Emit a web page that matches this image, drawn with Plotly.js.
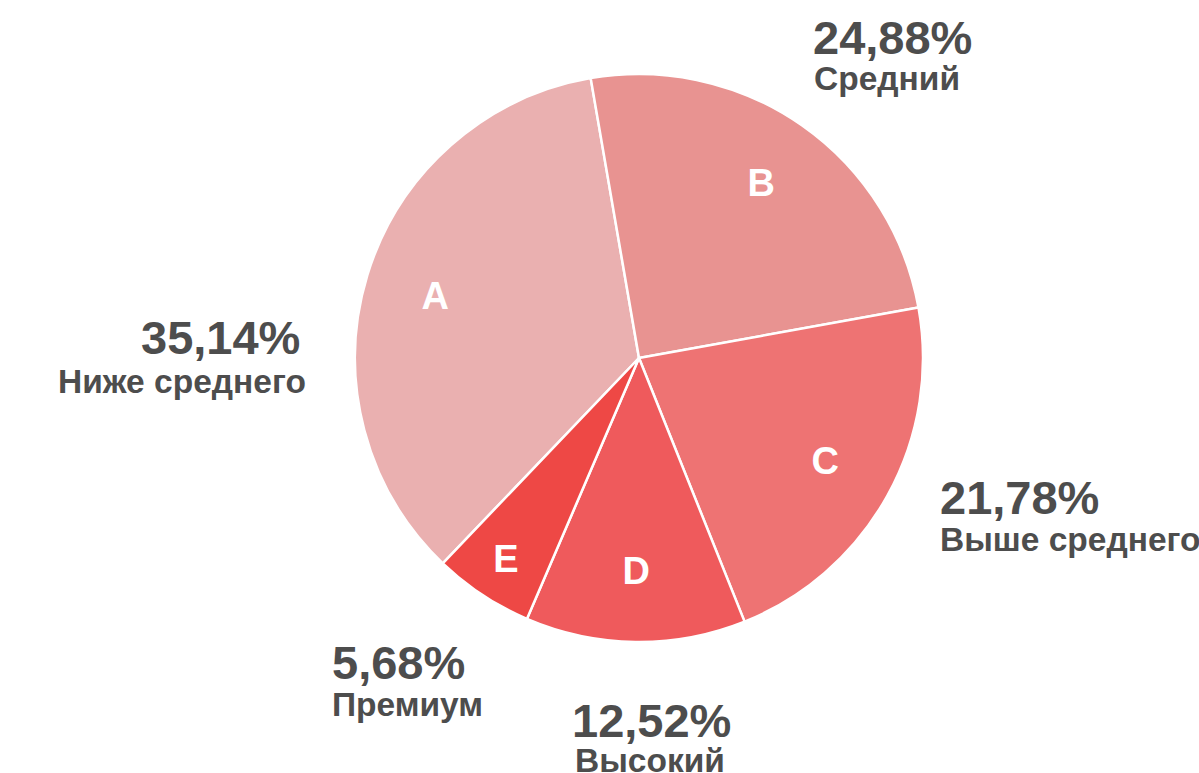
<!DOCTYPE html>
<html><head><meta charset="utf-8">
<script src="https://cdn.plot.ly/plotly-3.0.1.min.js"></script>
<style>html,body{margin:0;padding:0;background:#fff;overflow:hidden}#chart{width:1199px;height:773px}</style>
</head><body><div id="chart"></div>
<script>
// ---- data ----
const letters = ['A', 'B', 'C', 'D', 'E'];
const categories = ['Ниже среднего', 'Средний', 'Выше среднего', 'Высокий', 'Премиум'];
const values = [35.14, 24.88, 21.78, 12.52, 5.68];

// ---- style / layout ----
const colors = ['#EAB0B0', '#E89391', '#EE7373', '#EF5A5C', '#EE4845'];
const FONT = 'Liberation Sans, Arial, Helvetica, sans-serif';
const TEXT_COLOR = '#4D4D4D';
const W = 1199, H = 773;
const cx = 639, cy = 358, R = 284;
const domain = {x: [(cx - R) / W, (cx + R) / W], y: [(H - cy - R) / H, (H - cy + R) / H]};
const rotation = -136.3;

// outside label placement (pixels)
const labelLayout = [
  {xanchor: 'right',  pct: [302, 337], name: [308, 382]},
  {xanchor: 'left',   pct: [811, 38],  name: [812, 78]},
  {xanchor: 'left',   pct: [938, 497], name: [938, 539]},
  {xanchor: 'center', pct: [651, 720], name: [650, 760]},
  {xanchor: 'left',   pct: [330, 662], name: [330, 704]}
];

const fmtPct = v => v.toFixed(2).replace('.', ',') + '%';

const base = {
  type: 'pie', labels: letters, values: values, sort: false,
  direction: 'clockwise', rotation: rotation, domain: domain,
  hoverinfo: 'skip', showlegend: false
};

const pieTrace = Object.assign({}, base, {
  marker: {colors: colors, line: {color: '#FFFFFF', width: 2.5}},
  textinfo: 'none'
});

const letterTrace = Object.assign({}, base, {
  hole: 0.5,
  marker: {colors: letters.map(() => 'rgba(0,0,0,0)'), line: {width: 0}},
  text: letters, textinfo: 'text', textposition: 'inside',
  insidetextorientation: 'horizontal',
  textfont: {family: FONT, size: 38, color: '#FFFFFF', weight: 700}
});

const annotations = [];
categories.forEach((name, i) => {
  const L = labelLayout[i];
  annotations.push({
    xref: 'paper', yref: 'paper', x: L.pct[0] / W, y: 1 - L.pct[1] / H,
    xanchor: L.xanchor, yanchor: 'middle', showarrow: false,
    text: fmtPct(values[i]),
    font: {family: FONT, size: 47, color: TEXT_COLOR, weight: 700}
  });
  annotations.push({
    xref: 'paper', yref: 'paper', x: L.name[0] / W, y: 1 - L.name[1] / H,
    xanchor: L.xanchor, yanchor: 'middle', showarrow: false,
    text: name,
    font: {family: FONT, size: 33.5, color: TEXT_COLOR, weight: 700}
  });
});

const layout = {
  width: W, height: H,
  margin: {l: 0, r: 0, t: 0, b: 0},
  paper_bgcolor: '#FFFFFF', plot_bgcolor: '#FFFFFF',
  showlegend: false,
  separators: ', ',
  annotations: annotations
};

Plotly.newPlot('chart', [pieTrace, letterTrace], layout, {displayModeBar: false, staticPlot: true});
</script>
</body></html>
